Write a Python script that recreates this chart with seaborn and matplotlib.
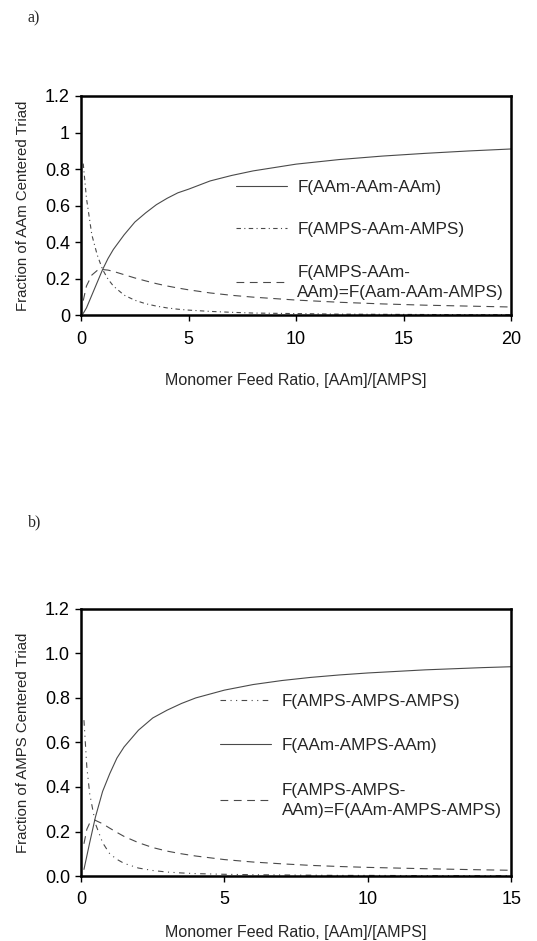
import matplotlib
matplotlib.use("Agg")
import matplotlib.pyplot as plt
import seaborn as sns

sns.set_theme(style="white")
plt.rcParams["font.family"] = ["Liberation Sans", "DejaVu Sans"]

# ---- panel a): AAm-centred triad fractions ----
ratio_a = [0.1, 0.25, 0.5, 0.75, 1, 1.25, 1.5, 2, 2.5, 3, 3.5, 4, 4.5, 5, 6, 7, 8, 10,
           12, 14, 16, 18, 20]
aam_aam_aam = [0.01, 0.04, 0.11, 0.18, 0.25, 0.31, 0.36, 0.44, 0.51, 0.56, 0.605, 0.64,
               0.67, 0.69, 0.735, 0.765, 0.79, 0.827, 0.852, 0.871, 0.886, 0.899, 0.91]
amps_aam_amps = [0.83, 0.64, 0.44, 0.33, 0.25, 0.198, 0.16, 0.11, 0.082, 0.063, 0.05,
                 0.04, 0.033, 0.028, 0.021, 0.016, 0.012, 0.009, 0.006, 0.005, 0.004,
                 0.003, 0.003]
amps_aam_aam = [0.08, 0.16, 0.22, 0.245, 0.25, 0.247, 0.24, 0.222, 0.204, 0.188, 0.173,
                0.16, 0.149, 0.139, 0.122, 0.109, 0.099, 0.083, 0.071, 0.062, 0.055,
                0.05, 0.045]

# ---- panel b): AMPS-centred triad fractions ----
ratio_b = [0.1, 0.2, 0.3, 0.5, 0.75, 1, 1.25, 1.5, 2, 2.5, 3, 3.5, 4, 5, 6, 7, 8, 9, 10,
           12, 14, 15]
amps_amps_amps = [0.70, 0.49, 0.37, 0.235, 0.15, 0.10, 0.075, 0.057, 0.036, 0.025, 0.018,
                  0.014, 0.011, 0.008, 0.006, 0.005, 0.004, 0.003, 0.003, 0.002, 0.002,
                  0.002]
aam_amps_aam = [0.03, 0.09, 0.15, 0.265, 0.38, 0.46, 0.53, 0.58, 0.655, 0.71, 0.745,
                0.775, 0.80, 0.835, 0.86, 0.878, 0.892, 0.903, 0.912, 0.926, 0.936, 0.94]
amps_amps_aam = [0.145, 0.21, 0.238, 0.25, 0.235, 0.215, 0.196, 0.178, 0.15, 0.128,
                 0.112, 0.1, 0.09, 0.074, 0.063, 0.055, 0.048, 0.043, 0.039, 0.033,
                 0.028, 0.026]

xticks_a = [0, 5, 10, 15, 20]
yticks_a = [0, 0.2, 0.4, 0.6, 0.8, 1.0, 1.2]
ytick_labels_a = ["0", "0.2", "0.4", "0.6", "0.8", "1", "1.2"]
xticks_b = [0, 5, 10, 15]
yticks_b = [0, 0.2, 0.4, 0.6, 0.8, 1.0, 1.2]
ytick_labels_b = ["0.0", "0.2", "0.4", "0.6", "0.8", "1.0", "1.2"]

fig = plt.figure(figsize=(5.37, 9.41), dpi=100)
ax_a = fig.add_axes([0.151, 0.665, 0.801, 0.233])
ax_b = fig.add_axes([0.151, 0.069, 0.801, 0.284])

line_kw = dict(color="#4a4a4a", linewidth=0.8)


def style_axes(ax, xmax, xticks, yticks, ylabels, ylabel, xpad):
    ax.set_xlim(0, xmax)
    ax.set_ylim(0, 1.2)
    ax.set_xticks(xticks)
    ax.set_xticklabels([str(t) for t in xticks])
    ax.set_yticks(yticks)
    ax.set_yticklabels(ylabels)
    ax.tick_params(axis="both", which="major", direction="out", length=4, width=1,
                   labelsize=13, colors="black", pad=4)
    ax.tick_params(axis="x", bottom=True, pad=7)
    ax.tick_params(axis="y", left=True)
    for sp in ax.spines.values():
        sp.set_visible(True)
        sp.set_color("black")
        sp.set_linewidth(1.8)
    ax.set_xlabel("Monomer Feed Ratio, [AAm]/[AMPS]", fontsize=11.5, labelpad=xpad)
    ax.set_ylabel(ylabel, fontsize=10.8, labelpad=11)
    ax.grid(False)


def place_legend(ax, anchor, spacing):
    leg = ax.legend(loc="upper left", bbox_to_anchor=anchor, frameon=False,
                    fontsize=12.3, handlelength=3.0, handletextpad=0.6,
                    labelspacing=spacing, borderpad=0, borderaxespad=0)
    for t in leg.get_texts():
        t.set_linespacing(1.45)
    return leg


# panel a
sns.lineplot(x=ratio_a, y=aam_aam_aam, ax=ax_a, label="F(AAm-AAm-AAm)",
             linestyle="-", **line_kw)
sns.lineplot(x=ratio_a, y=amps_aam_amps, ax=ax_a, label="F(AMPS-AAm-AMPS)",
             linestyle=(0, (4, 3, 1, 3)), **line_kw)
sns.lineplot(x=ratio_a, y=amps_aam_aam, ax=ax_a,
             label="F(AMPS-AAm-\nAAm)=F(Aam-AAm-AMPS)",
             linestyle=(0, (7, 5)), **line_kw)
style_axes(ax_a, 20, xticks_a, yticks_a, ytick_labels_a,
           "Fraction of AAm Centered Triad", 18)
place_legend(ax_a, (0.36, 0.617), 1.6)

# panel b
sns.lineplot(x=ratio_b, y=amps_amps_amps, ax=ax_b, label="F(AMPS-AMPS-AMPS)",
             linestyle=(0, (5, 4, 1, 4, 1, 4)), **line_kw)
sns.lineplot(x=ratio_b, y=aam_amps_aam, ax=ax_b, label="F(AAm-AMPS-AAm)",
             linestyle="-", **line_kw)
sns.lineplot(x=ratio_b, y=amps_amps_aam, ax=ax_b,
             label="F(AMPS-AMPS-\nAAm)=F(AAm-AMPS-AMPS)",
             linestyle=(0, (7, 5)), **line_kw)
style_axes(ax_b, 15, xticks_b, yticks_b, ytick_labels_b,
           "Fraction of AMPS Centered Triad", 12)
place_legend(ax_b, (0.323, 0.682), 1.72)

fig.text(28 / 537, 1 - 18 / 941, "a)", family=["Liberation Serif", "DejaVu Serif"],
         fontsize=11.5, va="center", ha="left")
fig.text(28 / 537, 1 - 522 / 941, "b)", family=["Liberation Serif", "DejaVu Serif"],
         fontsize=11.5, va="center", ha="left")

fig.savefig("out.png", dpi=100)
